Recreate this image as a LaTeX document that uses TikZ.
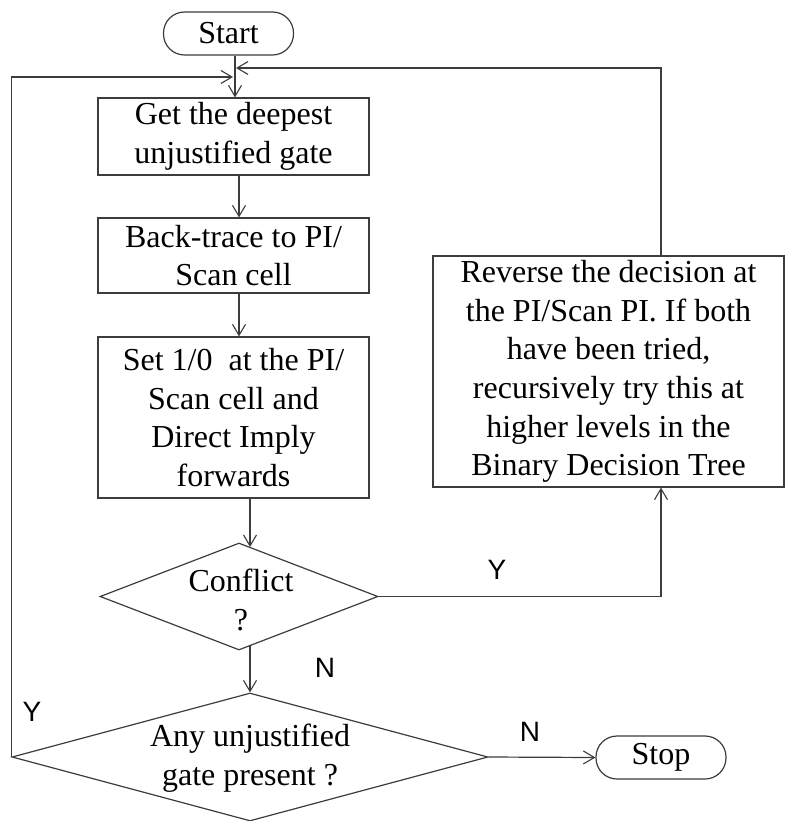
\documentclass[tikz,border=0pt]{standalone}
\usepackage{fontspec}
\setmainfont{Liberation Serif}
\newfontfamily\lblfont{Liberation Sans}
\usetikzlibrary{shapes.geometric,arrows.meta}
\definecolor{ln}{HTML}{3C3C3C}
\tikzset{
  every node/.style={font=\fontsize{32}{38.7}\selectfont, inner sep=0pt, align=center},
  stepbox/.style={draw=ln, line width=1.2pt, rectangle},
  term/.style={draw=ln, line width=1.2pt, rectangle, rounded corners=21pt, minimum width=130pt, minimum height=43pt},
  dia/.style={draw=ln, line width=1.2pt, diamond},
  conn/.style={draw=ln, line width=1.2pt},
  arr/.style={conn, -{Straight Barb[length=11pt,width=13pt,line width=1.1pt]}},
  yn/.style={font=\lblfont\fontsize{28}{30}\selectfont}
}
\begin{document}
\begin{tikzpicture}[x=1pt,y=-1pt]
\useasboundingbox (0,0) rectangle (785,821);
% nodes
\node[term] (st) at (228.5,33.5) {Start};
\node[stepbox, minimum width=271pt, minimum height=77pt] (b1) at (233.5,136.5) {Get the deepest\\unjustified gate};
\node[stepbox, minimum width=271pt, minimum height=75pt] (b2) at (233.5,255.5) {Back-trace to PI/\\Scan cell};
\node[stepbox, minimum width=271pt, minimum height=161pt] (b3) at (233.5,417.5) {Set 1/0\ \ at the PI/\\Scan cell and\\Direct Imply\\forwards};
\node[stepbox, minimum width=351pt, minimum height=231pt] (rev) at (608.5,371.5) {Reverse the decision at\\the PI/Scan PI. If both\\have been tried,\\recursively try this at\\higher levels in the\\Binary Decision Tree};
\node[dia, minimum width=278pt, minimum height=107pt] (c1) at (239,596.5) {};
\node at (241,600) {Conflict\\?};
\node[dia, minimum width=476pt, minimum height=128pt] (c2) at (250,757) {};
\node at (250,758) {Any unjustified\\gate present ?};
\node[term] (sp) at (661,757.5) {Stop};
% junction coordinates
\coordinate (jr) at (236,68);
\coordinate (jl) at (233,77);
\coordinate (c1t) at (250,547);
\coordinate (c1b) at (250,646);
% connectors
\draw[arr] ([xshift=6.5pt]st.south) -- ([xshift=1.5pt]b1.north);
\draw[arr] ([xshift=5.5pt]b1.south) -- ([xshift=5.5pt]b2.north);
\draw[arr] ([xshift=5.5pt]b2.south) -- ([xshift=5.5pt]b3.north);
\draw[arr] ([xshift=16.5pt]b3.south) -- (c1t);
\draw[arr] (c1b) -- (c2.north);
\draw[arr] (c2.east) -- (sp.west);
\draw[arr] (c1.east) -| ([xshift=52.5pt]rev.south);
\draw[arr] ([xshift=52.5pt]rev.north) |- (jr);
\draw[arr] (c2.west) |- (jl);
% labels
\node[yn] (ly1) at (497,570) {Y};
\node[yn] (ln1) at (325,668) {N};
\node[yn] (ly2) at (32,712) {Y};
\node[yn] (ln2) at (530,732) {N};
\end{tikzpicture}
\end{document}
